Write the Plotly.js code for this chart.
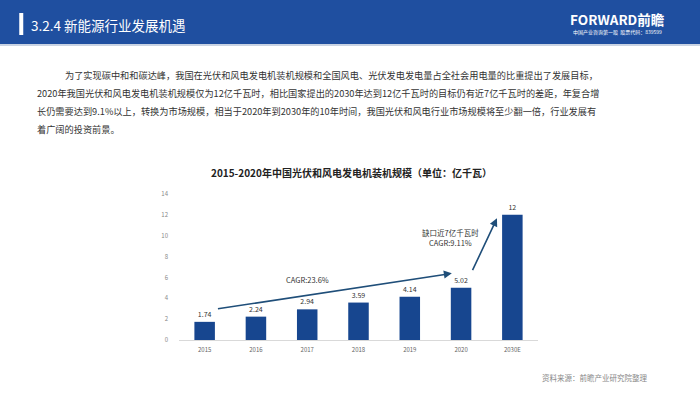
<!DOCTYPE html>
<html><head><meta charset="utf-8">
<script src="https://cdn.plot.ly/plotly-3.0.1.min.js"></script>
<style>html,body{margin:0;padding:0;background:#fff;}#c{width:700px;height:393px;}</style>
</head><body><div id="c"></div>
<script>
const years = ['2015','2016','2017','2018','2019','2020','2030E'];
const capacity = [1.74, 2.24, 2.94, 3.59, 4.14, 5.02, 12];
const valueLabels = ['1.74','2.24','2.94','3.59','4.14','5.02','12'];
const yTicks = [0,2,4,6,8,10,12,14];
const headerTitle = '3.2.4 新能源行业发展机遇';
const chartTitle = '2015-2020年中国光伏和风电发电机装机规模（单位：亿千瓦）';
const paraLines = [
  '为了实现碳中和和碳达峰，我国在光伏和风电发电机装机规模和全国风电、光伏发电发电量占全社会用电量的比重提出了发展目标，',
  '2020年我国光伏和风电发电机装机规模仅为12亿千瓦时，相比国家提出的2030年达到12亿千瓦时的目标仍有近7亿千瓦时的差距，年复合增',
  '长仍需要达到9.1%以上，转换为市场规模，相当于2020年到2030年的10年时间，我国光伏和风电行业市场规模将至少翻一倍，行业发展有',
  '着广阔的投资前景。'
];
const cagr1 = 'CAGR:23.6%';
const cagr2 = '缺口近7亿千瓦时<br>CAGR:9.11%';
const source = '资料来源：前瞻产业研究院整理';

const L = 179.4, R = 537.6, T = 194, B = 340;
const W = R - L, H = B - T;
const px = x => (x - L) / W;
const py = y => (B - y) / H;
const FONT = '"Noto Sans CJK SC", "Noto Sans", sans-serif';

const annotations = [];
annotations.push({xref:'paper', yref:'paper', x:px(30), y:py(25), xanchor:'left', yanchor:'middle',
  text: headerTitle, showarrow:false, font:{family:FONT, size:13.5, color:'#ffffff'}});
annotations.push({xref:'paper', yref:'paper', x:px(617), y:py(19), xanchor:'center', yanchor:'middle',
  text:'<b>FORWARD前瞻</b>', showarrow:false, font:{family:FONT, size:13.5, color:'#ffffff'}});
annotations.push({xref:'paper', yref:'paper', x:px(617), y:py(32), xanchor:'center', yanchor:'middle',
  text:'中国产业咨询第一股  股票代码：839599', showarrow:false, font:{family:FONT, size:5, color:'#ffffff'}});
const lineY = [75, 93, 111, 129];
paraLines.forEach((t, i) => {
  annotations.push({xref:'paper', yref:'paper', x:px(i === 0 ? 64 : 36), y:py(lineY[i]), xanchor:'left', yanchor:'middle',
    text:t, showarrow:false, font:{family:FONT, size:9.2, color:'#333333'}});
});
annotations.push({xref:'paper', yref:'paper', x:px(352), y:py(172), xanchor:'center', yanchor:'middle',
  text:'<b>'+chartTitle+'</b>', showarrow:false, font:{family:FONT, size:10, color:'#222222'}});
annotations.push({xref:'paper', yref:'paper', x:px(594), y:py(377), xanchor:'center', yanchor:'middle',
  text:source, showarrow:false, font:{family:FONT, size:7.5, color:'#888888'}});
// arrows (data coordinates)
annotations.push({xref:'x', yref:'y', axref:'x', ayref:'y', x:4.82, y:6.39, ax:0.23, ay:2.97,
  showarrow:true, arrowhead:2, arrowsize:1, arrowwidth:1.6, arrowcolor:'#1f4e79', text:''});
annotations.push({xref:'x', yref:'y', axref:'x', ayref:'y', x:5.70, y:11.67, ax:5.21, ay:6.55,
  showarrow:true, arrowhead:2, arrowsize:1, arrowwidth:1.6, arrowcolor:'#1f4e79', text:''});
annotations.push({xref:'paper', yref:'paper', x:px(308), y:py(279), xanchor:'center', yanchor:'middle',
  text:cagr1, showarrow:false, font:{family:FONT, size:7.5, color:'#333333'}});
annotations.push({xref:'paper', yref:'paper', x:px(450), y:py(237), xanchor:'center', yanchor:'middle',
  text:cagr2, showarrow:false, font:{family:FONT, size:7.5, color:'#333333'}});

const shapes = [
  {type:'rect', xref:'paper', yref:'paper', x0:px(0), x1:px(700), y0:py(0), y1:py(44), fillcolor:'#1f4fa0', line:{width:0}, layer:'below'},
  {type:'rect', xref:'paper', yref:'paper', x0:px(0), x1:px(700), y0:py(44), y1:py(46), fillcolor:'#c9d3e3', line:{width:0}, layer:'below'},
  {type:'rect', xref:'paper', yref:'paper', x0:px(20), x1:px(24), y0:py(13), y1:py(35), fillcolor:'#ffffff', line:{width:0}}
];

const trace = {
  type:'bar', x: years, y: capacity, text: valueLabels, textposition:'outside',
  textfont:{family:FONT, size:7, color:'#333333'}, cliponaxis:false,
  marker:{color:'#17468f'}, hoverinfo:'none'
};

const layout = {
  width:700, height:393,
  margin:{l:L, r:700-R, t:T, b:393-B, pad:0},
  paper_bgcolor:'#ffffff', plot_bgcolor:'#ffffff',
  showlegend:false, bargap:0.6,
  font:{family:FONT},
  xaxis:{type:'category', showgrid:false, zeroline:false, showline:true, linecolor:'#d9d9d9', linewidth:1,
    ticks:'', tickfont:{size:6, color:'#666666'}, ticklabelstandoff:4, fixedrange:true},
  yaxis:{range:[0,14], tickvals:yTicks, showgrid:false, zeroline:false, showline:false, ticks:'',
    tickfont:{size:6, color:'#888888'}, ticklabelstandoff:10, fixedrange:true},
  annotations, shapes
};
Plotly.newPlot('c', [trace], layout, {displayModeBar:false, staticPlot:true});
</script></body></html>
